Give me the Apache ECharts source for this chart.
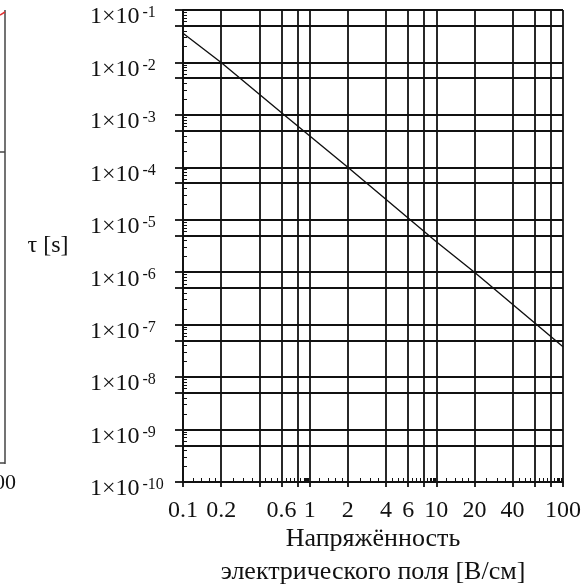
<!DOCTYPE html>
<html>
<head>
<meta charset="utf-8">
<script src="https://cdn.jsdelivr.net/npm/echarts@6/dist/echarts.min.js"></script>
<style>
  html, body { margin: 0; padding: 0; background: #fff; }
  #chart { width: 581px; height: 588px; }
</style>
</head>
<body>
<div id="chart"></div>
<script>
// Field strength E [V/cm] and relaxation time tau [s]
const fieldStrength = [0.1, 0.2, 0.6, 2, 10, 20, 100];
const tauValues = [0.036, 0.01, 1.1e-3, 1e-4, 3.8e-6, 1e-6, 3.8e-8];

// Grid lines and labels on the field axis
const xGridValues = [0.1, 0.2, 0.4, 0.6, 0.8, 1, 2, 4, 6, 8, 10, 20, 40, 60, 80, 100];
const xLabelValues = [0.1, 0.2, 0.6, 1, 2, 4, 6, 10, 20, 40, 100];
// Grid lines and labels on the tau axis (decades and half-decades)
const yLabelValues = [1e-1, 1e-2, 1e-3, 1e-4, 1e-5, 1e-6, 1e-7, 1e-8, 1e-9, 1e-10];
const yGridValues = [1e-1, 5e-2, 1e-2, 5e-3, 1e-3, 5e-4, 1e-4, 5e-5, 1e-5, 5e-6, 1e-6,
                     5e-7, 1e-7, 5e-8, 1e-8, 5e-9, 1e-9, 5e-10, 1e-10];

// Minor tick mantissas within each decade
const xMinorMantissa = [1.2, 1.4, 1.6, 1.8, 2.5, 3, 3.5, 4.5, 5, 5.5, 6.5, 7, 7.5, 8.5, 9, 9.2, 9.4, 9.6, 9.8];
const yMinorMantissa = [2, 3, 4, 6, 7, 8, 9];

function decadeTicks(mantissas, lowExp, highExp) {
  const out = [];
  for (let e = lowExp; e < highExp; e++) {
    mantissas.forEach(m => out.push(m * Math.pow(10, e)));
  }
  return out;
}
const xMinorValues = decadeTicks(xMinorMantissa, -1, 2);
const yMinorValues = decadeTicks(yMinorMantissa, -10, -1);

const FONT = '"Liberation Serif", "Times New Roman", serif';
const LINE = '#111';
const GRID_W = 1.8;

const chart = echarts.init(document.getElementById('chart'), null, { renderer: 'canvas' });

chart.setOption({
  backgroundColor: '#fff',
  animation: false,
  grid: { left: 183, top: 10, right: 18, bottom: 106, containLabel: false, outerBoundsMode: 'none' },
  xAxis: [
    {
      type: 'log', logBase: 10, min: 0.1, max: 100, position: 'bottom',
      name: 'Напряжённость\nэлектрического поля [В/см]',
      nameLocation: 'middle', nameGap: 41, nameMoveOverlap: false,
      nameTextStyle: { fontFamily: FONT, fontSize: 26, color: '#111', lineHeight: 33 },
      axisLine: { show: true, lineStyle: { color: LINE, width: GRID_W } },
      axisTick: { show: true, length: 5, lineStyle: { color: LINE, width: GRID_W }, customValues: xGridValues },
      axisLabel: {
        show: true, customValues: xLabelValues, margin: 17,
        fontFamily: FONT, fontSize: 24, color: '#111',
        formatter: v => String(+v.toPrecision(6))
      },
      splitLine: { show: true, lineStyle: { color: LINE, width: GRID_W } }
    },
    {
      type: 'log', logBase: 10, min: 0.1, max: 100, position: 'bottom',
      axisLine: { show: false },
      axisTick: { show: true, inside: true, length: 4, lineStyle: { color: LINE, width: 1 }, customValues: xMinorValues },
      axisLabel: { show: false },
      splitLine: { show: false }
    }
  ],
  yAxis: [
    {
      type: 'log', logBase: 10, min: 1e-10, max: 1e-1, position: 'left',
      name: 'τ [s]', nameLocation: 'middle', nameGap: 135, nameRotate: 0, nameMoveOverlap: false,
      nameTextStyle: { fontFamily: FONT, fontSize: 24, color: '#111', align: 'center', verticalAlign: 'middle', padding: [8, 0, 0, 0] },
      axisLine: { show: true, lineStyle: { color: LINE, width: GRID_W } },
      axisTick: { show: true, length: 8, lineStyle: { color: LINE, width: GRID_W }, customValues: yGridValues },
      axisLabel: {
        show: true, customValues: yLabelValues, margin: 93, align: 'left',
        verticalAlign: 'middle', padding: [14, 0, 0, 0],
        formatter: v => '{m|1×10}{e|' + Math.round(Math.log10(v)) + '}',
        rich: {
          m: { fontFamily: FONT, fontSize: 24, color: '#111', verticalAlign: 'bottom' },
          e: { fontFamily: FONT, fontSize: 16, color: '#111', verticalAlign: 'top', padding: [0, 0, 0, 3] }
        }
      },
      splitLine: { show: true, lineStyle: { color: LINE, width: GRID_W } }
    },
    {
      type: 'log', logBase: 10, min: 1e-10, max: 1e-1, position: 'left',
      axisLine: { show: false },
      axisTick: { show: true, inside: true, length: 4, lineStyle: { color: LINE, width: 1 }, customValues: yMinorValues },
      axisLabel: { show: false },
      splitLine: { show: false }
    }
  ],
  series: [
    {
      type: 'line',
      xAxisIndex: 0, yAxisIndex: 0,
      data: fieldStrength.map((e, i) => [e, tauValues[i]]),
      showSymbol: false,
      lineStyle: { color: '#111', width: 1.4 },
      z: 5
    }
  ],
  graphic: [
    // edge of the neighbouring panel on the left
    { type: 'line', shape: { x1: 5, y1: 10, x2: 5, y2: 464 }, style: { stroke: '#444', lineWidth: 1.5 } },
    { type: 'line', shape: { x1: 0, y1: 152, x2: 5, y2: 152 }, style: { stroke: '#444', lineWidth: 1.5 } },
    { type: 'line', shape: { x1: 0, y1: 463, x2: 5, y2: 463 }, style: { stroke: '#444', lineWidth: 1.5 } },
    { type: 'line', shape: { x1: 0, y1: 15, x2: 5, y2: 12 }, style: { stroke: '#e03030', lineWidth: 1.5 } },
    { type: 'text', x: 16, y: 483, style: { text: '100', font: '22px ' + FONT, fill: '#111', align: 'right', verticalAlign: 'middle' } }
  ]
});
</script>
</body>
</html>
